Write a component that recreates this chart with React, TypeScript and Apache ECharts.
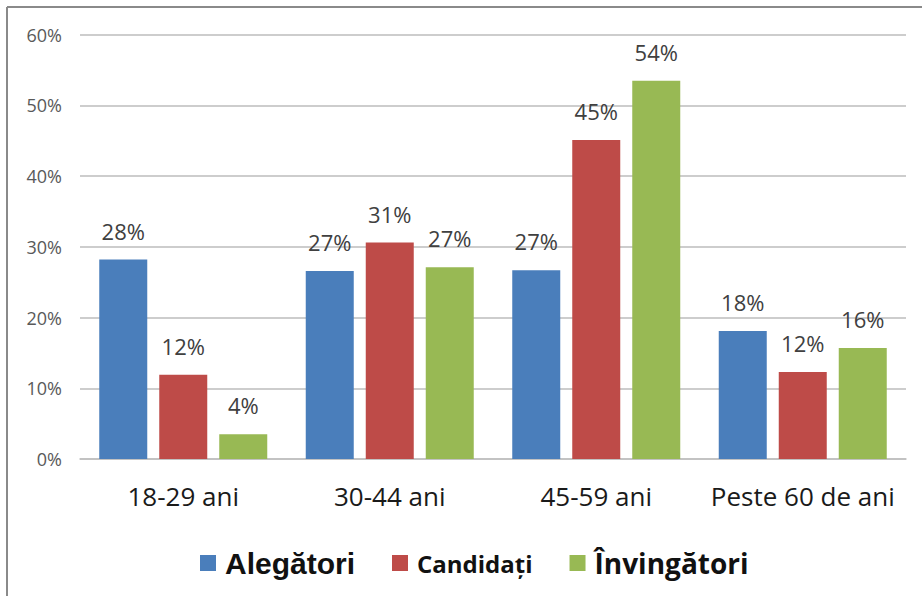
import React, { useEffect, useRef } from "react";
import * as echarts from "echarts";

const categories = ["18-29 ani", "30-44 ani", "45-59 ani", "Peste 60 de ani"];
const alegatori = [28.2, 26.6, 26.7, 18.1];
const candidati = [11.9, 30.6, 45.1, 12.3];
const invingatori = [3.5, 27.1, 53.5, 15.7];
const seriesNames = ["Alegători", "Candidați", "Învingători"];
const yTicks = { min: 0, max: 60, interval: 10 };

const colors = ["#4A7EBB", "#BE4B48", "#98B954"];
const richKeys: Record<string, string> = {
  "Alegători": "a",
  "Candidați": "c",
  "Învingători": "i",
};

export default function App() {
  const ref = useRef<HTMLDivElement>(null);
  useEffect(() => {
    document.body.style.margin = "0";
    const chart = echarts.init(ref.current!, null, { renderer: "svg" });
    const label = {
      show: true,
      position: "top",
      distance: 18,
      fontFamily: "Open Sans",
      fontSize: 22,
      color: "#404040",
      formatter: (p: any) => `${Math.round(p.value)}%`,
    };
    const mk = (name: string, data: number[], color: string) => ({
      name,
      type: "bar",
      data,
      barWidth: 48,
      barGap: "25%",
      itemStyle: { color },
      label,
    });
    chart.setOption({
      animation: false,
      backgroundColor: "#ffffff",
      grid: { left: 80, right: 16, top: 34.7, bottom: 137 },
      xAxis: {
        type: "category",
        data: categories,
        axisTick: { show: false },
        axisLine: { lineStyle: { color: "#bfbfbf", width: 1.5 } },
        axisLabel: {
          interval: 0,
          fontFamily: "Open Sans",
          fontSize: 26,
          color: "#1a1a1a",
          margin: 24,
        },
      },
      yAxis: {
        type: "value",
        min: yTicks.min,
        max: yTicks.max,
        interval: yTicks.interval,
        axisLine: { show: false },
        axisTick: { show: false },
        splitLine: { lineStyle: { color: "#bdbdbd", width: 1.5 } },
        axisLabel: {
          fontFamily: "Open Sans",
          fontSize: 18,
          color: "#595959",
          margin: 18,
          formatter: "{value}%",
        },
      },
      legend: {
        data: seriesNames,
        left: 195,
        top: 543,
        icon: "rect",
        itemWidth: 16,
        itemHeight: 16,
        itemGap: 37,
        formatter: (name: string) => `{${richKeys[name]}|${name}}`,
        textStyle: {
          rich: {
            a: {
              fontFamily: "Liberation Sans",
              fontWeight: "bold",
              fontSize: 30,
              color: "#111",
              padding: [0, 0, 0, 4],
            },
            c: {
              fontFamily: "Open Sans",
              fontWeight: "bold",
              fontSize: 24,
              color: "#111",
              padding: [0, 0, 0, 4],
            },
            i: {
              fontFamily: "Open Sans",
              fontWeight: "bold",
              fontSize: 28,
              color: "#111",
              padding: [0, 0, 0, 4],
            },
          },
        },
      },
      graphic: [
        {
          type: "line",
          shape: { x1: 7, y1: 7, x2: 922, y2: 7 },
          style: { stroke: "#8a8a8a", lineWidth: 2 },
          silent: true,
        },
        {
          type: "line",
          shape: { x1: 7, y1: 7, x2: 7, y2: 596 },
          style: { stroke: "#8a8a8a", lineWidth: 2 },
          silent: true,
        },
      ],
      series: [
        mk(seriesNames[0], alegatori, colors[0]),
        mk(seriesNames[1], candidati, colors[1]),
        mk(seriesNames[2], invingatori, colors[2]),
      ],
    });
    return () => chart.dispose();
  }, []);
  return <div ref={ref} style={{ width: 922, height: 596 }} />;
}
